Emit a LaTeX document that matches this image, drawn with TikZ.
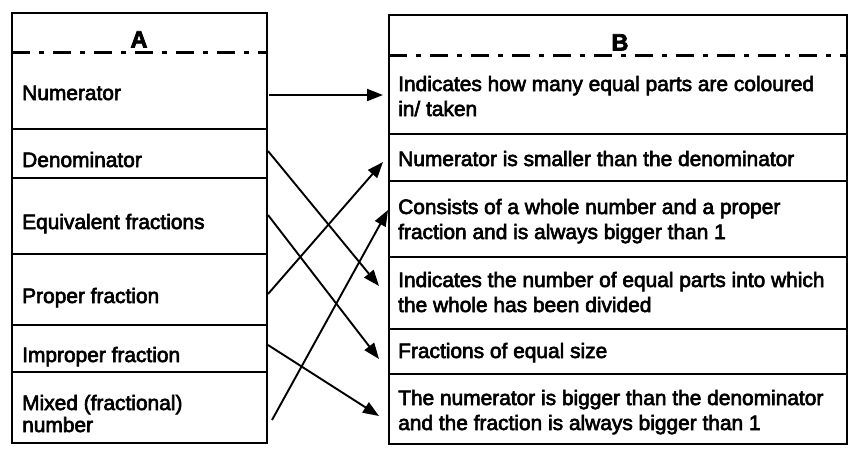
\documentclass[tikz,border=0pt]{standalone}
\usepackage{fontspec}
\setmainfont{Liberation Sans}[FakeBold=3]
\usetikzlibrary{arrows.meta,calc}
\tikzset{
  rowL/.style={draw, line width=2pt, minimum width=255pt, inner sep=0pt, outer sep=0pt},
  rowR/.style={draw, line width=2pt, minimum width=458pt, inner sep=0pt, outer sep=0pt},
  txt/.style={anchor=base west, inner sep=0pt, font=\fontsize{20.9}{25}\selectfont},
  hdr/.style={anchor=base, inner sep=0pt, font=\fontsize{23.5}{25}\selectfont\bfseries},
  dashdot/.style={line width=3pt, dash pattern=on 18pt off 9pt on 5pt off 9pt},
  match/.style={line width=1.9pt, -{Triangle[length=16pt,width=12pt]}}
}
\begin{document}
\begin{tikzpicture}[x=1pt,y=-1pt]
\path[use as bounding box] (0,0) rectangle (862,456);
% left column
\node[rowL, minimum height=39pt] (L0) at (139.5,32.5) {};
\node[rowL, minimum height=77pt] (L1) at (139.5,90.5) {};
\node[rowL, minimum height=49pt] (L2) at (139.5,153.5) {};
\node[rowL, minimum height=76pt] (L3) at (139.5,216) {};
\node[rowL, minimum height=71pt] (L4) at (139.5,289.5) {};
\node[rowL, minimum height=47pt] (L5) at (139.5,348.5) {};
\node[rowL, minimum height=71pt] (L6) at (139.5,407.5) {};
% right column
\node[rowR, minimum height=40pt] (R0) at (618,35) {};
\node[rowR, minimum height=79pt] (R1) at (618,94.5) {};
\node[rowR, minimum height=47pt] (R2) at (618,157.5) {};
\node[rowR, minimum height=76pt] (R3) at (618,219) {};
\node[rowR, minimum height=72pt] (R4) at (618,293) {};
\node[rowR, minimum height=45pt] (R5) at (618,351.5) {};
\node[rowR, minimum height=70pt] (R6) at (618,409) {};
% header separators
\draw[draw=white, line width=2.6pt] ([xshift=1pt]L0.south west) -- ([xshift=-1pt]L0.south east);
\draw[dashdot] (L0.south west) -- (L0.south east);
\draw[draw=white, line width=2.6pt] ([xshift=1pt]R0.south west) -- ([xshift=-1pt]R0.south east);
\draw[dashdot] (R0.south west) -- (R0.south east);
% headers
\node[hdr] (hA) at (139,47.5) {A};
\node[hdr] (hB) at (620,50.5) {B};
% left texts
\node[txt] (a1) at (22,100) {Numerator};
\node[txt] (a2) at (22,167) {Denominator};
\node[txt] (a3) at (22,229) {Equivalent fractions};
\node[txt] (a4) at (22,303) {Proper fraction};
\node[txt] (a5) at (22,362) {Improper fraction};
\node[txt] (a6a) at (22,410) {Mixed (fractional)};
\node[txt] (a6b) at (22,432) {number};
% right texts
\node[txt] (b1a) at (398,91) {Indicates how many equal parts are coloured};
\node[txt] (b1b) at (398,116) {in/ taken};
\node[txt] (b2) at (398,166) {Numerator is smaller than the denominator};
\node[txt] (b3a) at (398,214) {Consists of a whole number and a proper};
\node[txt] (b3b) at (398,239) {fraction and is always bigger than 1};
\node[txt] (b4a) at (398,287) {Indicates the number of equal parts into which};
\node[txt] (b4b) at (398,312) {the whole has been divided};
\node[txt] (b5) at (398,358) {Fractions of equal size};
\node[txt] (b6a) at (398,405) {The numerator is bigger than the denominator};
\node[txt] (b6b) at (398,430) {and the fraction is always bigger than 1};
% matching arrows
\draw[match] ($(L1.east)+(2,4.5)$) -- ($(R1.west)+(-6,0.5)$);
\draw[match] ($(L2.east)+(1,-2.5)$) -- ($(R4.west)+(-10,-7)$);
\draw[match] ($(L3.east)+(1,-1)$) -- ($(R5.west)+(-10,7.5)$);
\draw[match] ($(L4.east)+(1,4.5)$) -- ($(R2.west)+(-6,4.5)$);
\draw[match] ($(L5.east)+(1,-3.5)$) -- ($(R6.west)+(-10,7)$);
\draw[match] ($(L6.east)+(5,12.5)$) -- ($(R3.west)+(-1,-9)$);
\end{tikzpicture}
\end{document}
